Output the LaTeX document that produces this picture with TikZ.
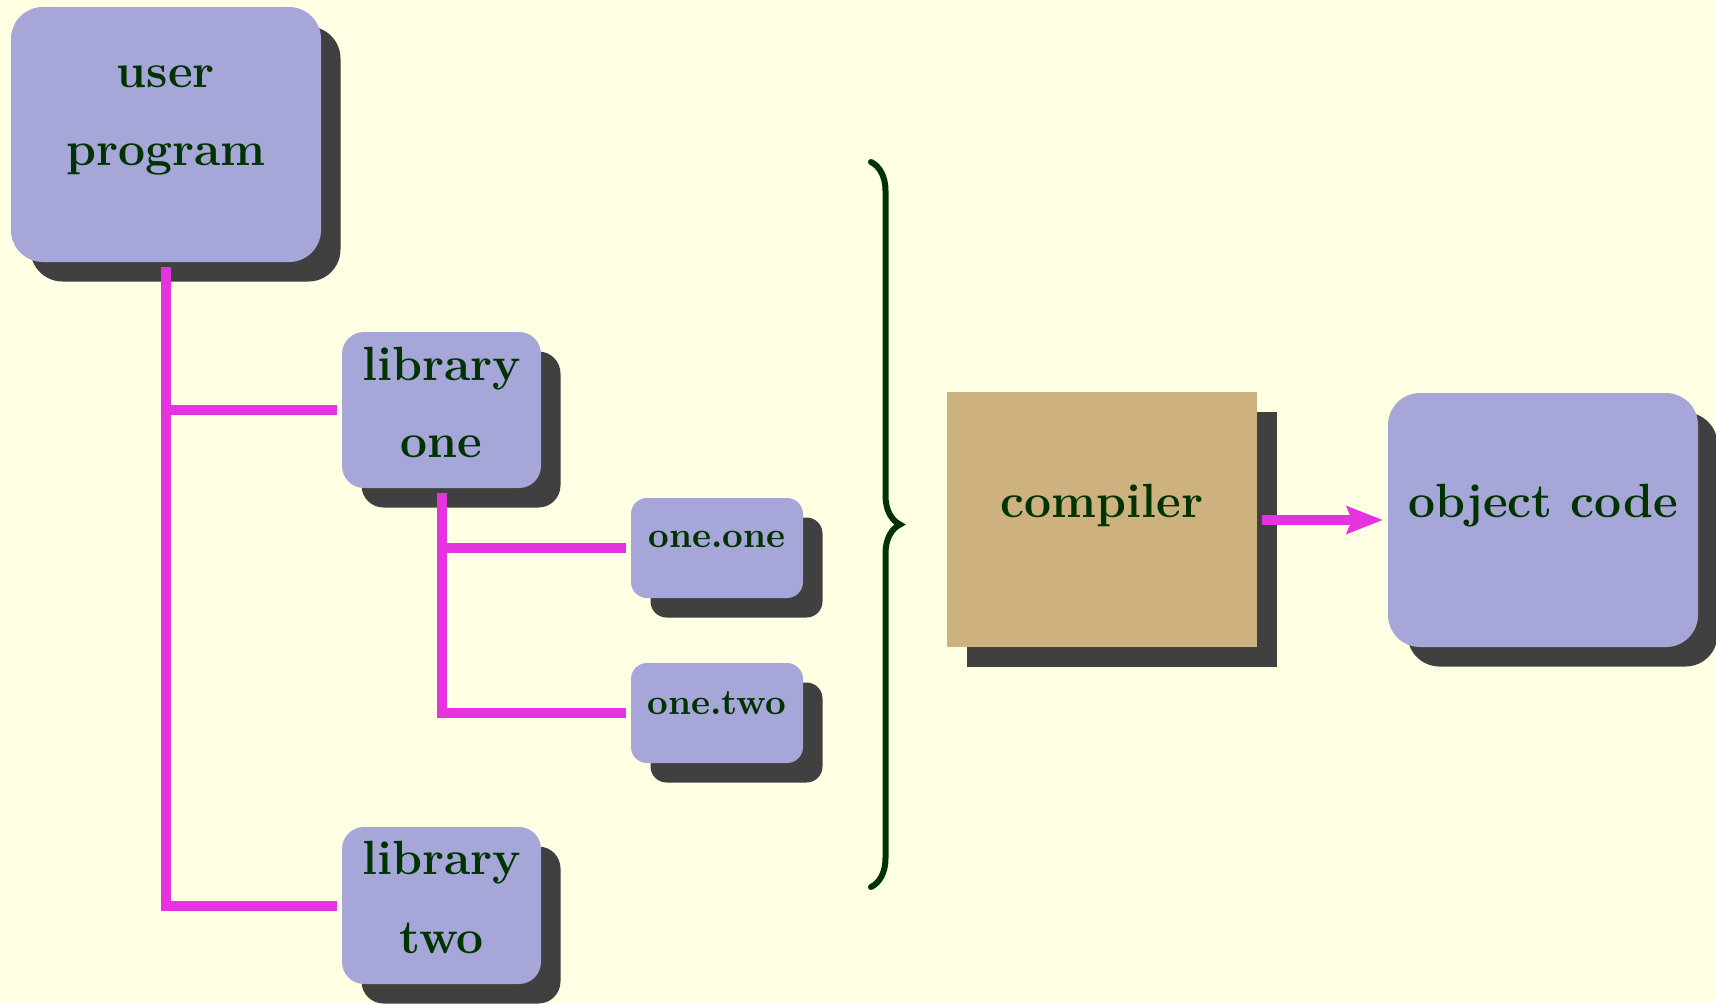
\documentclass[tikz,border=0pt]{standalone}
\usetikzlibrary{shadows,arrows.meta,decorations.pathreplacing}

\definecolor{paper}{RGB}{255,255,227}
\definecolor{boxblue}{RGB}{166,166,216}
\definecolor{boxtan}{RGB}{205,178,128}
\definecolor{shade}{RGB}{64,64,64}
\definecolor{wire}{RGB}{230,51,224}
\definecolor{ink}{RGB}{0,51,0}

\tikzset{
  panel/.style={draw=none, inner sep=0pt, outer sep=1.5pt,
    drop shadow={shadow xshift=5.85pt, shadow yshift=-5.85pt, fill=shade, opacity=1}},
  dims/.style 2 args={minimum width=#1*0.3pt, minimum height=#2*0.3pt},
  bluepanel/.style={panel, fill=boxblue, rounded corners=#1},
  tanpanel/.style={panel, fill=boxtan},
  bigtext/.style={inner sep=0pt, anchor=base, text=ink,
    font=\fontsize{14.4}{16}\selectfont\bfseries},
  smalltext/.style={inner sep=0pt, anchor=base, text=ink,
    font=\fontsize{10.8}{13}\selectfont\bfseries},
  wireline/.style={draw=wire, line width=3pt},
  bracket/.style={draw=ink, line width=1.8pt, line cap=round,
    decorate, decoration={brace, amplitude=8.7pt}}
}

\begin{document}
\begin{tikzpicture}[x=0.3pt, y=-0.3pt]
  % page
  \fill[paper] (0,0) rectangle (1716,1003);
  \useasboundingbox (0,0) rectangle (1716,1003);

  % boxes
  \node[bluepanel=9.6pt, dims={310}{255}] (user) at (166,134.5) {};
  \node[bluepanel=6.6pt, dims={199}{156}] (libone) at (441.5,410) {};
  \node[bluepanel=6.6pt, dims={199}{157}] (libtwo) at (441.5,905.5) {};
  \node[bluepanel=4.8pt, dims={172}{100}] (oneone) at (717,548) {};
  \node[bluepanel=4.8pt, dims={172}{100}] (onetwo) at (717,713) {};
  \node[tanpanel, dims={310}{255}] (compiler) at (1102,519.5) {};
  \node[bluepanel=9.6pt, dims={310}{254}] (object) at (1543,520) {};

  % labels
  \node[bigtext] (userA) at (166,87) {user};
  \node[bigtext] (userB) at (166,165) {program};
  \node[bigtext] (liboneA) at (441.5,380) {library};
  \node[bigtext] (liboneB) at (441.5,457) {one};
  \node[bigtext] (libtwoA) at (441.5,874) {library};
  \node[bigtext] (libtwoB) at (441.5,953) {two};
  \node[smalltext] (oneoneA) at (717,547) {one.one};
  \node[smalltext] (onetwoA) at (717,714) {one.two};
  \node[bigtext] (compilerA) at (1102,517) {compiler};
  \node[bigtext] (objectA) at (1543,517) {object code};

  % tree connectors
  \draw[wireline] (user.south) |- (libone.west);
  \draw[wireline] (user.south) |- (libtwo.west);
  \draw[wireline] (libone.south) |- (oneone.west);
  \draw[wireline] (libone.south) |- (onetwo.west);

  % grouping brace
  \coordinate (braceTop) at (871,162);
  \coordinate (braceBot) at (871,887);
  \draw[bracket] (braceTop) -- (braceBot);

  % compiler output
  \draw[wireline, -{Stealth[length=10.8pt, width=8.1pt, inset=1.5pt]}]
    (compiler.east |- object.west) -- (object.west);
\end{tikzpicture}
\end{document}
